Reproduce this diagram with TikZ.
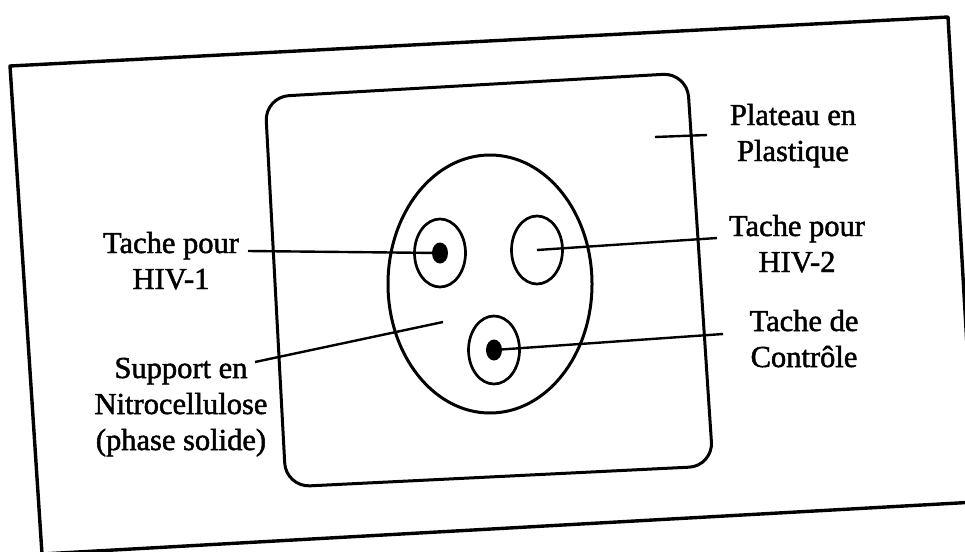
\documentclass[tikz,border=0pt]{standalone}
\usepackage{fontspec}
\setmainfont{Liberation Serif}
\newfontfamily\labfont[FakeBold=1.6]{Liberation Serif}
\usetikzlibrary{shapes.geometric}
\begin{document}
\begin{tikzpicture}[x=1pt,y=-1pt,
  frame/.style={line width=3.4pt, line join=round},
  plate/.style={line width=3pt, rounded corners=24pt},
  support/.style={draw, ellipse, line width=3pt, inner sep=0pt, minimum width=204pt, minimum height=258pt},
  ring/.style={draw, ellipse, line width=2.7pt, inner sep=0pt, minimum width=51pt, minimum height=68pt},
  dot/.style={fill=black, ellipse, inner sep=0pt, minimum width=16pt, minimum height=21pt},
  conn/.style={line width=2.4pt},
  lab/.style={anchor=base, inner sep=0pt, font=\labfont\fontsize{30.5}{36}\selectfont}
]
\useasboundingbox (0,0) rectangle (965,551);
\clip (0,0) rectangle (965,551);
\fill[white] (0,0) rectangle (965,551);

% outer frame
\draw[frame] (10,66) -- (948,17) -- (976,502) -- (42,554) -- cycle;
% plastic plate
\draw[plate] (265,97) -- (687,73) -- (713,466) -- (286,487) -- cycle;
% nitrocellulose support
\node[support] (supp) at (490,284) {};
% spots
\node[ring] (ring1) at (440,253) {};
\node[ring] (ring2) at (537,250) {};
\node[ring] (ring3) at (494,350) {};

% labels
\node[lab] (plateau) at (793,125) {\begin{tabular}[t]{@{}c@{}}Plateau en\\Plastique\end{tabular}};
\node[lab] (hivone) at (171,253) {\begin{tabular}[t]{@{}c@{}}Tache pour\\HIV-1\end{tabular}};
\node[lab] (hivtwo) at (797,236) {\begin{tabular}[t]{@{}c@{}}Tache pour\\HIV-2\end{tabular}};
\node[lab] (ctrl) at (804,331) {\begin{tabular}[t]{@{}c@{}}Tache de\\Contrôle\end{tabular}};
\node[lab] (supplab) at (181,378) {\begin{tabular}[t]{@{}c@{}}Support en\\Nitrocellulose\\(phase solide)\end{tabular}};

% connector ends
\coordinate (tickA) at (655,137);
\coordinate (tickB) at (707,135);
\coordinate (honeEnd) at (248,251);
\coordinate (htwoEnd) at (717,238);
\coordinate (ctrlEnd) at (723,334);
\coordinate (supA) at (255,362);
\coordinate (supB) at (443,322);

\draw[conn] (tickA) -- (tickB);
\draw[conn] (honeEnd) -- (ring1.center);
\draw[conn] (htwoEnd) -- (ring2.center);
\draw[conn] (ctrlEnd) -- (ring3.center);
\draw[conn] (supA) -- (supB);

% filled dots
\node[dot] (dot1) at (ring1.center) {};
\node[dot] (dot3) at (ring3.center) {};
\end{tikzpicture}
\end{document}
